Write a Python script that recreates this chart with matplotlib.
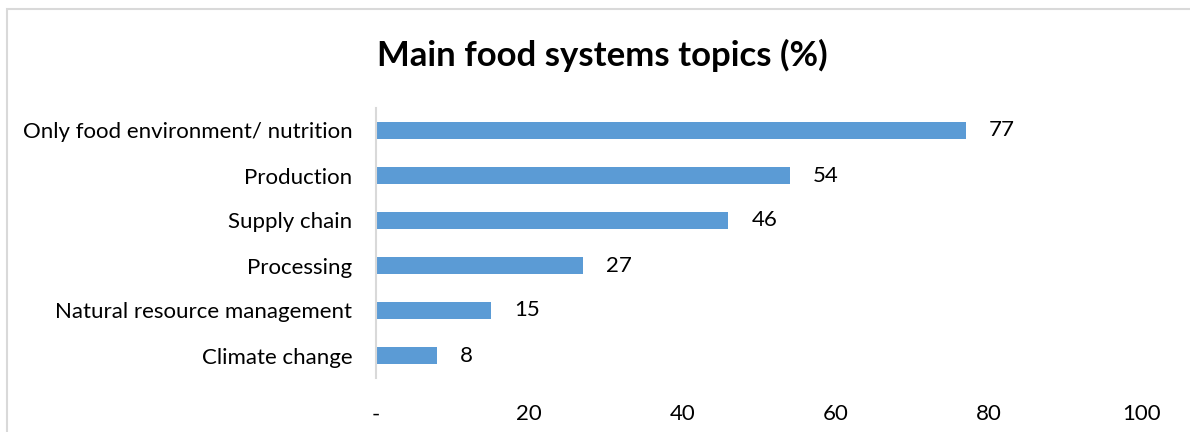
import matplotlib.pyplot as plt
import matplotlib.patches as patches
from matplotlib.ticker import FixedLocator, FixedFormatter

plt.rcParams['font.family'] = ['Lato', 'DejaVu Sans']

# data (top to bottom as shown)
topics = ['Only food environment/ nutrition', 'Production', 'Supply chain',
          'Processing', 'Natural resource management', 'Climate change']
shares = [77, 54, 46, 27, 15, 8]
xticks = [0, 20, 40, 60, 80, 100]
xtick_labels = ['-', '20', '40', '60', '80', '100']

W, H = 1190, 432
fig = plt.figure(figsize=(W / 100, H / 100), dpi=100)

# chart frame (light grey, runs off right/bottom edge)
fig.patches.append(patches.Rectangle((7 / W, -0.1), 1.2, 1 - 9 / H + 0.1,
                                     transform=fig.transFigure, fill=False,
                                     edgecolor='#d9d9d9', linewidth=1.5))

ax = fig.add_axes([376 / W, 1 - 378 / H, (1142 - 376) / W, (378 - 108) / H])
pos = list(range(len(topics)))[::-1]
ax.barh(pos, shares, height=0.36, color='#5b9bd5')
for p, v in zip(pos, shares):
    ax.text(v + 3, p, str(v), va='center', ha='left', fontsize=16, color='#000000')

ax.set_xlim(0, 100)
ax.set_ylim(-0.5, len(topics) - 0.5)
ax.set_yticks(pos)
ax.set_yticklabels(topics, fontsize=16)
ax.xaxis.set_major_locator(FixedLocator(xticks))
ax.xaxis.set_major_formatter(FixedFormatter(xtick_labels))
ax.tick_params(axis='x', labelsize=16, length=0, pad=19)
ax.tick_params(axis='y', length=0, pad=17)
for s in ['top', 'right', 'bottom']:
    ax.spines[s].set_visible(False)
ax.spines['left'].set_color('#d9d9d9')
ax.spines['left'].set_linewidth(1.5)

fig.text(602 / W, 1 - 55 / H, 'Main food systems topics (%)', ha='center', va='center',
         fontsize=25, fontweight='bold')

plt.savefig('out.png', dpi=100)
